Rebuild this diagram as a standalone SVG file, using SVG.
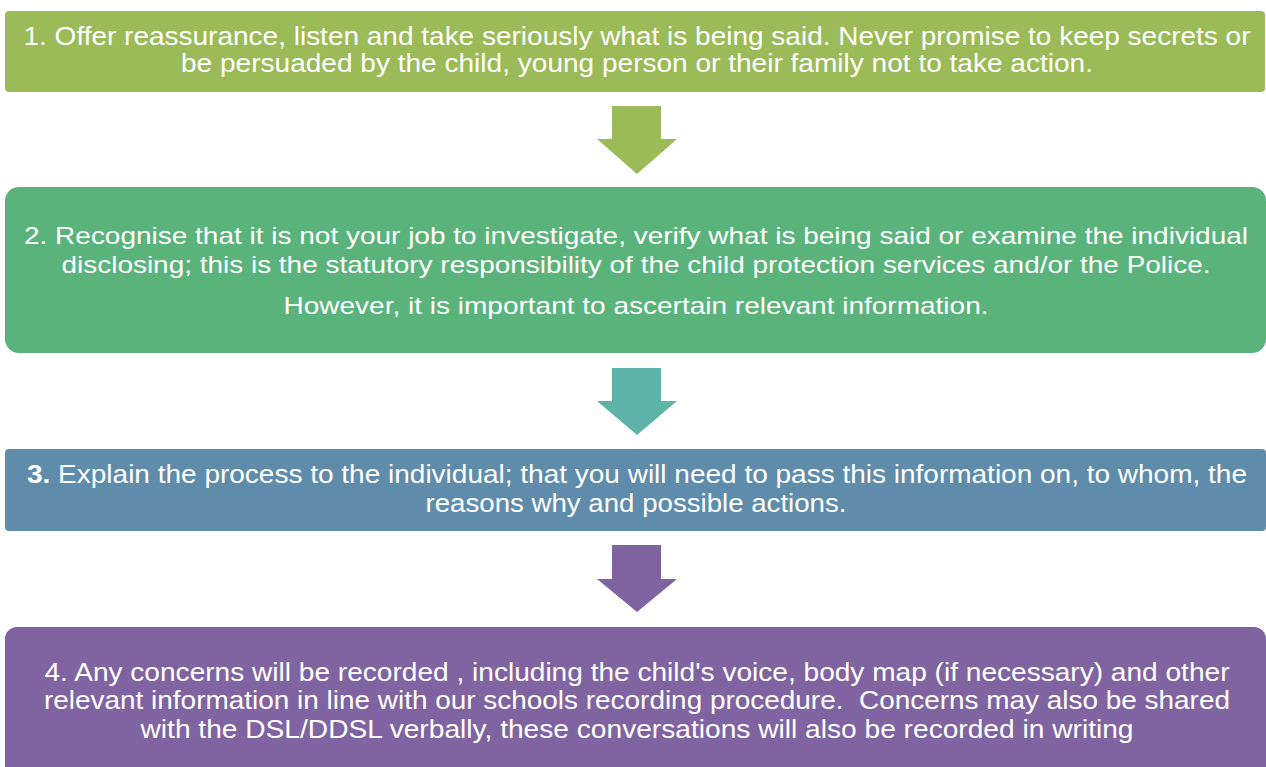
<svg xmlns="http://www.w3.org/2000/svg" width="1266" height="767" viewBox="0 0 1266 767">
<style>
text{font-family:"Liberation Sans",Arial,sans-serif;fill:#ffffff;font-size:25px;white-space:pre}
.c{font-size:24px}
</style>
<rect width="1266" height="767" fill="#ffffff"/>
<g id="connectors">
<polygon id="arrow1" points="612,106 661,106 661,139 677,139 637,174 597,139 612,139" fill="#9bbb59"/>
<polygon id="arrow2" points="612,368 661,368 661,401 677,401 637,435 597,401 612,401" fill="#5db3a7"/>
<polygon id="arrow3" points="612,545 661,545 661,579 677,579 637,612 597,579 612,579" fill="#8064a2"/>
</g>
<g id="node1">
<rect x="5" y="11" width="1260" height="81" rx="4" fill="#9bbb59"/>
<text x="637" y="45" text-anchor="middle" textLength="1227" lengthAdjust="spacingAndGlyphs">1. Offer reassurance, listen and take seriously what is being said. Never promise to keep secrets or</text>
<text x="637" y="72" text-anchor="middle" textLength="912" lengthAdjust="spacingAndGlyphs">be persuaded by the child, young person or their family not to take action.</text>
</g>
<g id="node2">
<rect x="5" y="187" width="1261" height="166" rx="14" fill="#5bb37c"/>
<text class="c" x="636" y="244" text-anchor="middle" textLength="1224" lengthAdjust="spacingAndGlyphs">2. Recognise that it is not your job to investigate, verify what is being said or examine the individual</text>
<text class="c" x="636" y="273" text-anchor="middle" textLength="1149" lengthAdjust="spacingAndGlyphs">disclosing; this is the statutory responsibility of the child protection services and/or the Police.</text>
<text class="c" x="636" y="314" text-anchor="middle" textLength="705" lengthAdjust="spacingAndGlyphs">However, it is important to ascertain relevant information.</text>
</g>
<g id="node3">
<rect x="5" y="449" width="1261" height="82" rx="4" fill="#5f8cab"/>
<text x="637" y="483" text-anchor="middle" textLength="1220" lengthAdjust="spacingAndGlyphs"><tspan font-weight="bold">3.</tspan> Explain the process to the individual; that you will need to pass this information on, to whom, the</text>
<text x="636" y="512" text-anchor="middle" textLength="421" lengthAdjust="spacingAndGlyphs">reasons why and possible actions.</text>
</g>
<g id="node4">
<rect x="5" y="627" width="1261" height="160" rx="12" fill="#8064a2"/>
<text x="637" y="681" text-anchor="middle" textLength="1185" lengthAdjust="spacingAndGlyphs">4. Any concerns will be recorded , including the child's voice, body map (if necessary) and other</text>
<text x="637" y="709" text-anchor="middle" textLength="1186" lengthAdjust="spacingAndGlyphs">relevant information in line with our schools recording procedure.  Concerns may also be shared</text>
<text x="637" y="738" text-anchor="middle" textLength="993" lengthAdjust="spacingAndGlyphs">with the DSL/DDSL verbally, these conversations will also be recorded in writing</text>
</g>
</svg>
